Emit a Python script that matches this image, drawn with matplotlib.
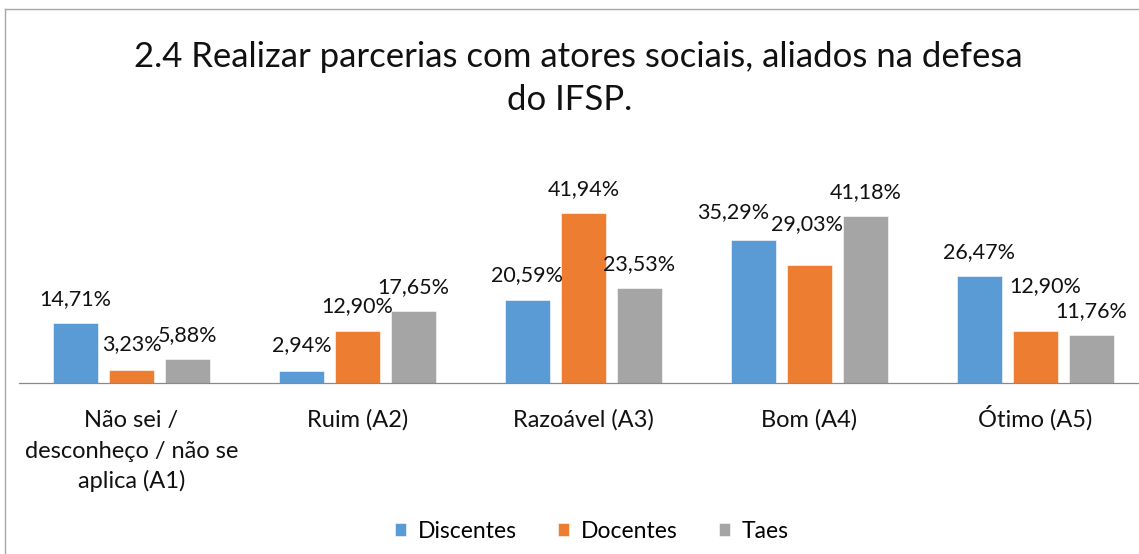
import numpy as np
import matplotlib
matplotlib.use('Agg')
from matplotlib import pyplot as plt
from matplotlib.lines import Line2D

plt.rcParams['font.family'] = ['Lato', 'DejaVu Sans']

categories = ['Não sei /\ndesconheço / não se\naplica (A1)', 'Ruim (A2)',
              'Razoável (A3)', 'Bom (A4)', 'Ótimo (A5)']
series = ['Discentes', 'Docentes', 'Taes']
discentes = [14.71, 2.94, 20.59, 35.29, 26.47]
docentes = [3.23, 12.90, 41.94, 29.03, 12.90]
taes = [5.88, 17.65, 23.53, 41.18, 11.76]
colors = ['#5B9BD5', '#ED7D31', '#A5A5A5']
title_1 = '2.4 Realizar parcerias com atores sociais, aliados na defesa'
title_2 = 'do IFSP.'

# manual nudges (px) of some data labels, as in the original chart
label_nudge = {(1, 0): (0, 2), (0, 1): (0, 2), (1, 1): (0, 1),
               (0, 3): (-20, 4), (1, 3): (-3, 17), (1, 4): (10, 21)}

W, H = 1139, 554
PT = 72 / 100  # px -> points
fig = plt.figure(figsize=(W / 100, H / 100), dpi=100)

# chart-area border (only left and top visible, rest is cropped)
fig.add_artist(Line2D([5 / W, 5 / W], [0, 1 - 9 / H], color='#A6A6A6', lw=1.0))
fig.add_artist(Line2D([5 / W, 1], [1 - 9 / H, 1 - 9 / H], color='#A6A6A6', lw=1.0))

ax = fig.add_axes([18.5 / W, (H - 383) / H, 1130 / W, 202.7 / H])
x = np.arange(len(categories))
step = 0.248
width = 0.2
for k, (vals, name, c) in enumerate(zip([discentes, docentes, taes], series, colors)):
    pos = x + (k - 1) * step
    ax.bar(pos, vals, width, color=c, label=name, edgecolor='white', linewidth=0.4)
    for i, (p, v) in enumerate(zip(pos, vals)):
        dx, dy = label_nudge.get((k, i), (0, 0))
        ax.annotate(f'{v:.2f}%'.replace('.', ','), xy=(p, v),
                    xytext=(dx * PT, (24 + dy) * PT),
                    textcoords='offset points', ha='center', va='center',
                    fontsize=15.5, color='#111111')

# category labels, one text per line so all baselines line up
for i, cat in enumerate(categories):
    for j, line in enumerate(cat.split('\n')):
        ax.annotate(line, xy=(i, 0), xytext=(0, -(44 + 30.5 * j) * PT),
                    textcoords='offset points', ha='center', va='baseline',
                    fontsize=17, color='#111111')

ax.set_xlim(-0.5, 4.5)
ax.set_ylim(0, 50)
for s in ['top', 'right', 'left']:
    ax.spines[s].set_visible(False)
ax.spines['bottom'].set_color('#898989')
ax.spines['bottom'].set_linewidth(0.9)
ax.set_xticks([])
ax.set_yticks([])
ax.patch.set_alpha(0)

fig.text(578 / W, 1 - 57 / H, title_1, ha='center', va='center', fontsize=25, color='#111111')
fig.text(570 / W, 1 - 100 / H, title_2, ha='center', va='center', fontsize=25, color='#111111')

handles, labels = ax.get_legend_handles_labels()
fig.legend(handles, labels, loc='center', bbox_to_anchor=(592 / W, 1 - 531 / H), ncol=3,
           frameon=False, fontsize=16.5, handlelength=0.48, handleheight=0.48,
           handletextpad=0.52, columnspacing=1.8, borderpad=0)

fig.savefig('out.png', dpi=100)
